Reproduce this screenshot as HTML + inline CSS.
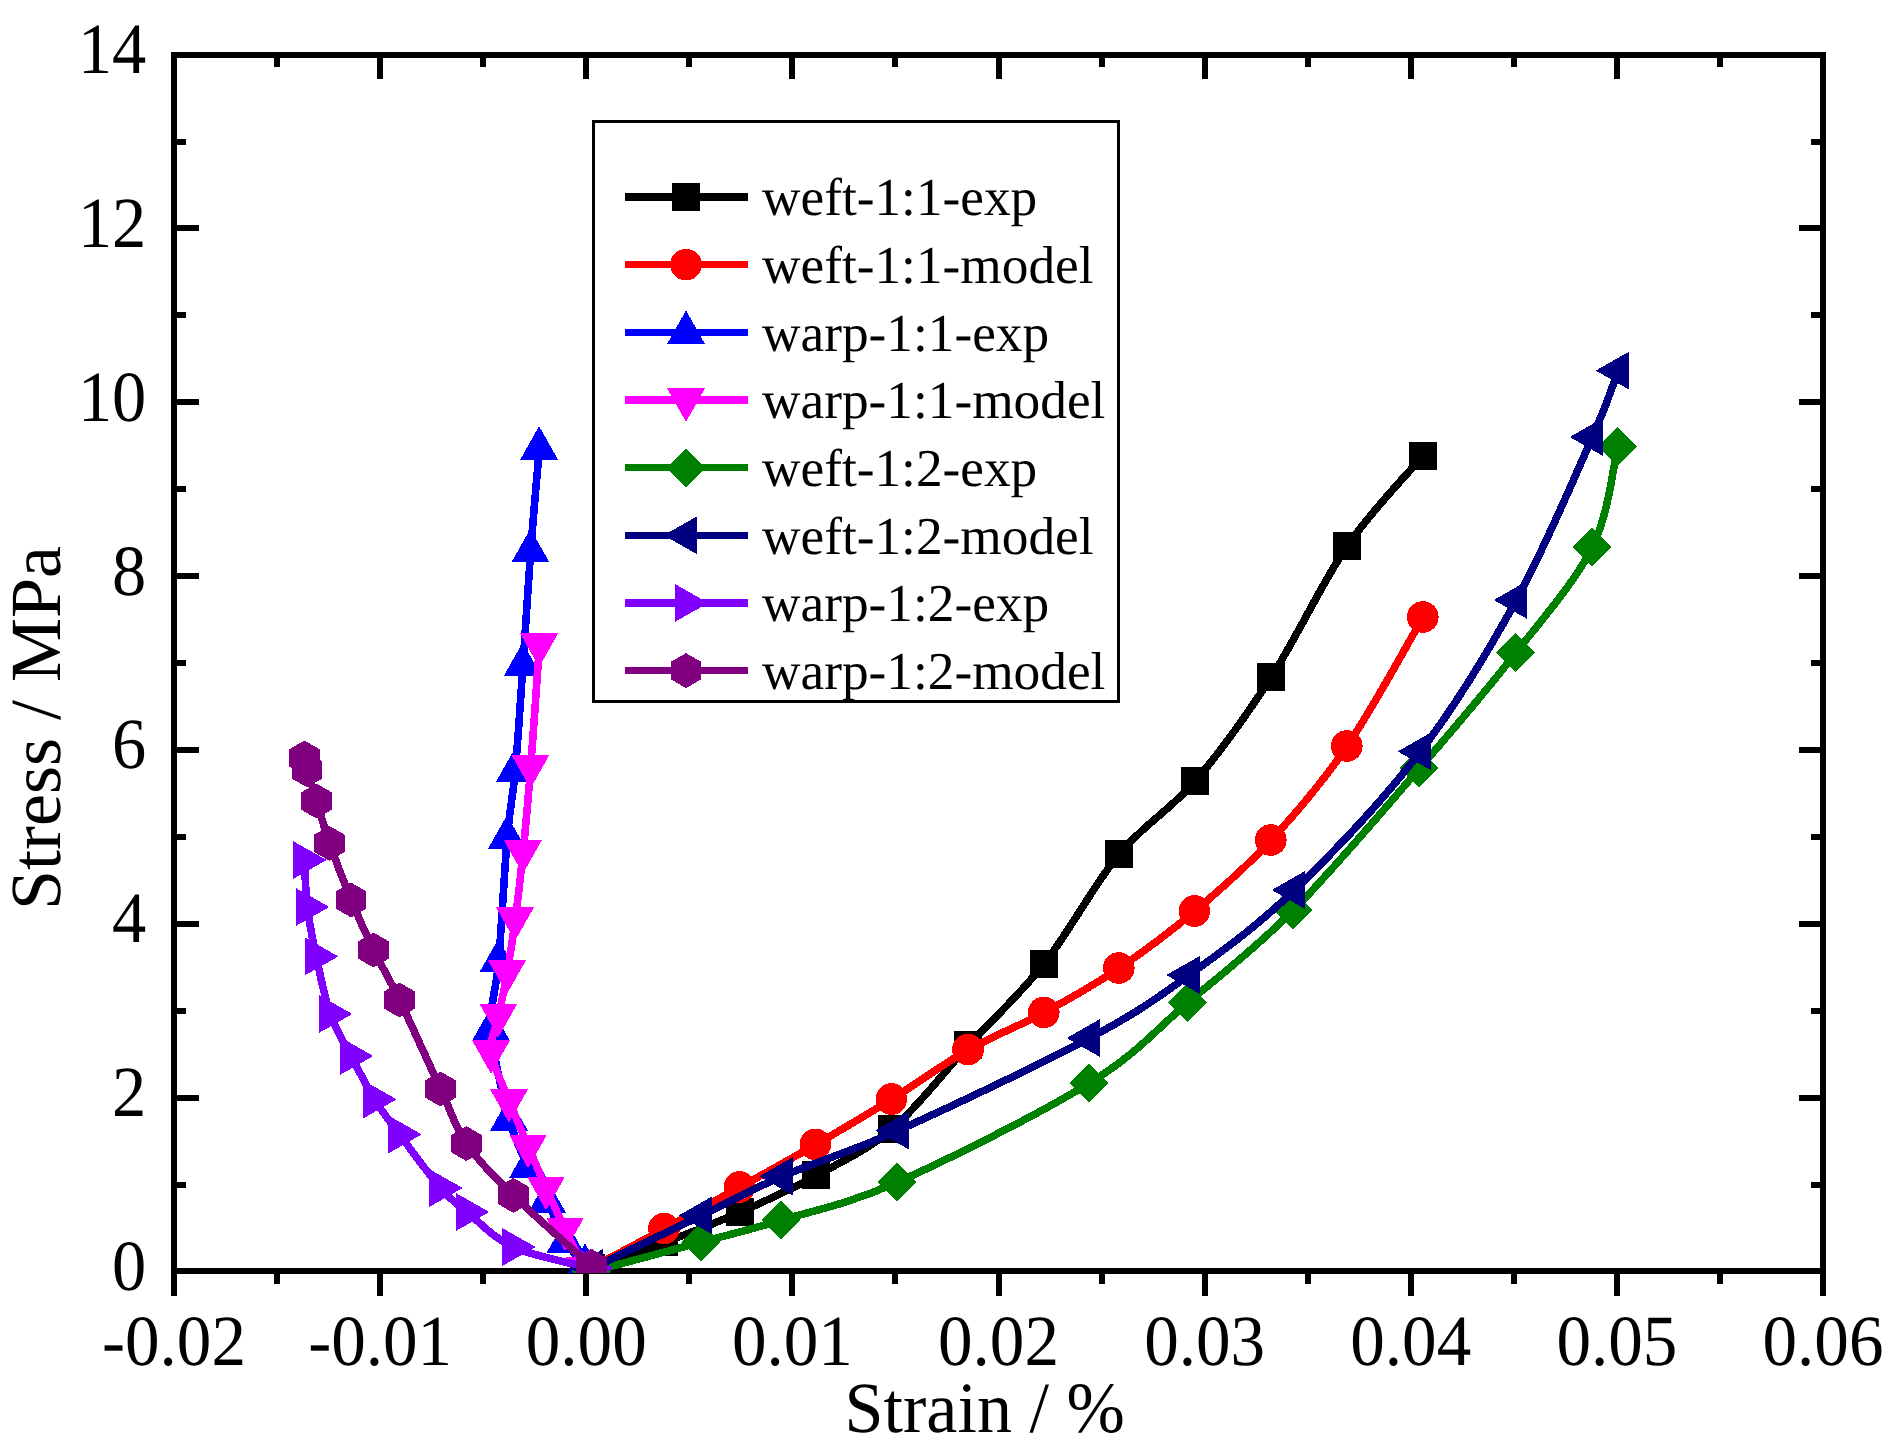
<!DOCTYPE html>
<html lang="en"><head><meta charset="utf-8"><title>Stress-strain</title>
<style>html,body{margin:0;padding:0;background:#fff}svg{display:block}</style></head>
<body>
<svg width="1899" height="1449" viewBox="0 0 1899 1449" font-family="'Liberation Serif', serif" shape-rendering="crispEdges" text-rendering="geometricPrecision">
<rect width="1899" height="1449" fill="#fff"/>
<defs><clipPath id="cp"><rect x="174" y="52" width="1649" height="1221"/></clipPath></defs>
<g stroke="#000" stroke-width="6" fill="none"><path d="M174,1296V52" /><path d="M1823,1296V52" /><path d="M171,55H1826" /><path d="M171,1271H1826" /><path d="M277.06,1274v10"/><path d="M277.06,58v9"/><path d="M380.12,1274v22"/><path d="M380.12,58v21"/><path d="M483.19,1274v10"/><path d="M483.19,58v9"/><path d="M586.25,1274v22"/><path d="M586.25,58v21"/><path d="M689.31,1274v10"/><path d="M689.31,58v9"/><path d="M792.38,1274v22"/><path d="M792.38,58v21"/><path d="M895.44,1274v10"/><path d="M895.44,58v9"/><path d="M998.5,1274v22"/><path d="M998.5,58v21"/><path d="M1101.56,1274v10"/><path d="M1101.56,58v9"/><path d="M1204.62,1274v22"/><path d="M1204.62,58v21"/><path d="M1307.69,1274v10"/><path d="M1307.69,58v9"/><path d="M1410.75,1274v22"/><path d="M1410.75,58v21"/><path d="M1513.81,1274v10"/><path d="M1513.81,58v9"/><path d="M1616.88,1274v22"/><path d="M1616.88,58v21"/><path d="M1719.94,1274v10"/><path d="M1719.94,58v9"/><path d="M177,1184.56h9"/><path d="M1820,1184.56h-9"/><path d="M177,1097.64h22"/><path d="M1820,1097.64h-21"/><path d="M177,1010.72h9"/><path d="M1820,1010.72h-9"/><path d="M177,923.8h22"/><path d="M1820,923.8h-21"/><path d="M177,836.88h9"/><path d="M1820,836.88h-9"/><path d="M177,749.96h22"/><path d="M1820,749.96h-21"/><path d="M177,663.04h9"/><path d="M1820,663.04h-9"/><path d="M177,576.12h22"/><path d="M1820,576.12h-21"/><path d="M177,489.2h9"/><path d="M1820,489.2h-9"/><path d="M177,402.28h22"/><path d="M1820,402.28h-21"/><path d="M177,315.36h9"/><path d="M1820,315.36h-9"/><path d="M177,228.44h22"/><path d="M1820,228.44h-21"/><path d="M177,141.52h9"/><path d="M1820,141.52h-9"/></g>
<g font-size="72" fill="#000">
<text transform="translate(174,1364.8) scale(0.96,1)" text-anchor="middle">-0.02</text>
<text transform="translate(380.12,1364.8) scale(0.96,1)" text-anchor="middle">-0.01</text>
<text transform="translate(586.25,1364.8) scale(0.96,1)" text-anchor="middle">0.00</text>
<text transform="translate(792.38,1364.8) scale(0.96,1)" text-anchor="middle">0.01</text>
<text transform="translate(998.5,1364.8) scale(0.96,1)" text-anchor="middle">0.02</text>
<text transform="translate(1204.62,1364.8) scale(0.96,1)" text-anchor="middle">0.03</text>
<text transform="translate(1410.75,1364.8) scale(0.96,1)" text-anchor="middle">0.04</text>
<text transform="translate(1616.88,1364.8) scale(0.96,1)" text-anchor="middle">0.05</text>
<text transform="translate(1823,1364.8) scale(0.96,1)" text-anchor="middle">0.06</text>
<text transform="translate(146.3,1289.88) scale(0.95,1)" text-anchor="end">0</text>
<text transform="translate(146.3,1116.04) scale(0.95,1)" text-anchor="end">2</text>
<text transform="translate(146.3,942.2) scale(0.95,1)" text-anchor="end">4</text>
<text transform="translate(146.3,768.36) scale(0.95,1)" text-anchor="end">6</text>
<text transform="translate(146.3,594.52) scale(0.95,1)" text-anchor="end">8</text>
<text transform="translate(146.3,420.68) scale(0.95,1)" text-anchor="end">10</text>
<text transform="translate(146.3,246.84) scale(0.95,1)" text-anchor="end">12</text>
<text transform="translate(146.3,73) scale(0.95,1)" text-anchor="end">14</text>
<text transform="translate(844.6,1432.3) scale(0.973,1)">Strain / %</text>
<text transform="translate(59.8,910) rotate(-90)">Stress / MPa</text>
</g>
<g clip-path="url(#cp)" shape-rendering="crispEdges">
<path d="M590.5,1268C602.75,1263.73 639.12,1251.73 664,1242.4C688.88,1233.07 714.5,1223.17 739.8,1212C765.1,1200.83 790.43,1189.3 815.8,1175.4C841.17,1161.5 866.63,1150.27 892,1128.6C917.37,1106.93 942.7,1072.9 968,1045.4C993.3,1017.9 1018.67,995.5 1043.8,963.6C1068.93,931.7 1093.63,884.43 1118.8,854C1143.97,823.57 1169.43,810.53 1194.8,781C1220.17,751.47 1245.67,715.97 1271,676.8C1296.33,637.63 1321.5,582.87 1346.8,546C1372.1,509.13 1410.13,470.67 1422.8,455.6" fill="none" stroke="#000000" stroke-width="7.6" stroke-linejoin="round" transform="translate(0.3,0.2)"/>
<rect x="576.5" y="1254" width="28" height="28" fill="#000000"/>
<rect x="650" y="1228.4" width="28" height="28" fill="#000000"/>
<rect x="725.8" y="1198" width="28" height="28" fill="#000000"/>
<rect x="801.8" y="1161.4" width="28" height="28" fill="#000000"/>
<rect x="878" y="1114.6" width="28" height="28" fill="#000000"/>
<rect x="954" y="1031.4" width="28" height="28" fill="#000000"/>
<rect x="1029.8" y="949.6" width="28" height="28" fill="#000000"/>
<rect x="1104.8" y="840" width="28" height="28" fill="#000000"/>
<rect x="1180.8" y="767" width="28" height="28" fill="#000000"/>
<rect x="1257" y="662.8" width="28" height="28" fill="#000000"/>
<rect x="1332.8" y="532" width="28" height="28" fill="#000000"/>
<rect x="1408.8" y="441.6" width="28" height="28" fill="#000000"/>
<path d="M590.5,1268C602.75,1261.43 639.18,1242.1 664,1228.6C688.82,1215.1 714.17,1201.03 739.4,1187C764.63,1172.97 790.07,1159.07 815.4,1144.4C840.73,1129.73 865.97,1114.8 891.4,1099C916.83,1083.2 942.6,1064.03 968,1049.6C993.4,1035.17 1018.67,1026 1043.8,1012.4C1068.93,998.8 1093.7,984.9 1118.8,968C1143.9,951.1 1169.07,932.33 1194.4,911C1219.73,889.67 1245.4,867.5 1270.8,840C1296.2,812.5 1321.47,783.17 1346.8,746C1372.13,708.83 1410.13,638.5 1422.8,617" fill="none" stroke="#ff0000" stroke-width="7.6" stroke-linejoin="round" transform="translate(0.3,0.2)"/>
<circle cx="590.5" cy="1268" r="15.8" fill="#ff0000"/>
<circle cx="664" cy="1228.6" r="15.8" fill="#ff0000"/>
<circle cx="739.4" cy="1187" r="15.8" fill="#ff0000"/>
<circle cx="815.4" cy="1144.4" r="15.8" fill="#ff0000"/>
<circle cx="891.4" cy="1099" r="15.8" fill="#ff0000"/>
<circle cx="968" cy="1049.6" r="15.8" fill="#ff0000"/>
<circle cx="1043.8" cy="1012.4" r="15.8" fill="#ff0000"/>
<circle cx="1118.8" cy="968" r="15.8" fill="#ff0000"/>
<circle cx="1194.4" cy="911" r="15.8" fill="#ff0000"/>
<circle cx="1270.8" cy="840" r="15.8" fill="#ff0000"/>
<circle cx="1346.8" cy="746" r="15.8" fill="#ff0000"/>
<circle cx="1422.8" cy="617" r="15.8" fill="#ff0000"/>
<path d="M539.1,448C537.65,465.1 533.13,514.55 530.4,550.6C527.67,586.65 525.27,627.73 522.7,664.3C520.13,700.87 517.62,741.22 515,770C512.38,798.78 509.77,805.23 507,837C504.23,868.77 501.07,928.6 498.4,960.6C495.73,992.6 489.23,1002.6 491,1029C492.77,1055.4 502.83,1096.1 509,1119C515.17,1141.9 521.67,1152.73 528,1166.4C534.33,1180.07 540.77,1188.5 547,1201C553.23,1213.5 559.07,1230.73 565.4,1241.4C571.73,1252.07 581.73,1261.07 585,1265" fill="none" stroke="#0000ff" stroke-width="7.6" stroke-linejoin="round" transform="translate(0.3,0.2)"/>
<polygon points="539.1,426.1 520.1,459.8 558.1,459.8" fill="#0000ff"/>
<polygon points="530.4,528.7 511.4,562.4 549.4,562.4" fill="#0000ff"/>
<polygon points="522.7,642.4 503.7,676.1 541.7,676.1" fill="#0000ff"/>
<polygon points="515,748.1 496,781.8 534,781.8" fill="#0000ff"/>
<polygon points="507,815.1 488,848.8 526,848.8" fill="#0000ff"/>
<polygon points="498.4,938.7 479.4,972.4 517.4,972.4" fill="#0000ff"/>
<polygon points="491,1007.1 472,1040.8 510,1040.8" fill="#0000ff"/>
<polygon points="509,1097.1 490,1130.8 528,1130.8" fill="#0000ff"/>
<polygon points="528,1144.5 509,1178.2 547,1178.2" fill="#0000ff"/>
<polygon points="547,1179.1 528,1212.8 566,1212.8" fill="#0000ff"/>
<polygon points="565.4,1219.5 546.4,1253.2 584.4,1253.2" fill="#0000ff"/>
<polygon points="585,1243.1 566,1276.8 604,1276.8" fill="#0000ff"/>
<path d="M539.1,645.2C537.65,665.45 533.12,732.23 530.4,766.7C527.68,801.17 525.37,826.62 522.8,852C520.23,877.38 517.63,899 515,919C512.37,939 509.77,955.93 507,972C504.23,988.07 501.07,1002.07 498.4,1015.4C495.73,1028.73 489.23,1037.73 491,1052C492.77,1066.27 502.83,1085.27 509,1101C515.17,1116.73 521.83,1131.83 528,1146.4C534.17,1160.97 539.83,1174.57 546,1188.4C552.17,1202.23 558.58,1215.97 565,1229.4C571.42,1242.83 581.25,1262.4 584.5,1269" fill="none" stroke="#ff00ff" stroke-width="7.6" stroke-linejoin="round" transform="translate(0.3,0.2)"/>
<polygon points="539.1,667.1 520.1,633.4 558.1,633.4" fill="#ff00ff"/>
<polygon points="530.4,788.6 511.4,754.9 549.4,754.9" fill="#ff00ff"/>
<polygon points="522.8,873.9 503.8,840.2 541.8,840.2" fill="#ff00ff"/>
<polygon points="515,940.9 496,907.2 534,907.2" fill="#ff00ff"/>
<polygon points="507,993.9 488,960.2 526,960.2" fill="#ff00ff"/>
<polygon points="498.4,1037.3 479.4,1003.6 517.4,1003.6" fill="#ff00ff"/>
<polygon points="491,1073.9 472,1040.2 510,1040.2" fill="#ff00ff"/>
<polygon points="509,1122.9 490,1089.2 528,1089.2" fill="#ff00ff"/>
<polygon points="528,1168.3 509,1134.6 547,1134.6" fill="#ff00ff"/>
<polygon points="546,1210.3 527,1176.6 565,1176.6" fill="#ff00ff"/>
<polygon points="565,1251.3 546,1217.6 584,1217.6" fill="#ff00ff"/>
<polygon points="584.5,1290.9 565.5,1257.2 603.5,1257.2" fill="#ff00ff"/>
<path d="M591,1271.5C609.27,1266.58 668.93,1250.58 700.6,1242C732.27,1233.42 748.27,1230 781,1220C813.73,1210 845.67,1204.83 897,1182C948.33,1159.17 1040.57,1112.93 1089,1083C1137.43,1053.07 1153.6,1031.23 1187.6,1002.4C1221.6,973.57 1254.37,949.07 1293,910C1331.63,870.93 1382.3,810.9 1419.4,768C1456.5,725.1 1486.83,689.43 1515.6,652.6C1544.37,615.77 1575.03,581.33 1592,547C1608.97,512.67 1613.17,463.33 1617.4,446.6" fill="none" stroke="#008000" stroke-width="7.6" stroke-linejoin="round" transform="translate(0.3,0.2)"/>
<polygon points="591,1252 610.5,1271.5 591,1291 571.5,1271.5" fill="#008000"/>
<polygon points="700.6,1222.5 720.1,1242 700.6,1261.5 681.1,1242" fill="#008000"/>
<polygon points="781,1200.5 800.5,1220 781,1239.5 761.5,1220" fill="#008000"/>
<polygon points="897,1162.5 916.5,1182 897,1201.5 877.5,1182" fill="#008000"/>
<polygon points="1089,1063.5 1108.5,1083 1089,1102.5 1069.5,1083" fill="#008000"/>
<polygon points="1187.6,982.9 1207.1,1002.4 1187.6,1021.9 1168.1,1002.4" fill="#008000"/>
<polygon points="1293,890.5 1312.5,910 1293,929.5 1273.5,910" fill="#008000"/>
<polygon points="1419.4,748.5 1438.9,768 1419.4,787.5 1399.9,768" fill="#008000"/>
<polygon points="1515.6,633.1 1535.1,652.6 1515.6,672.1 1496.1,652.6" fill="#008000"/>
<polygon points="1592,527.5 1611.5,547 1592,566.5 1572.5,547" fill="#008000"/>
<polygon points="1617.4,427.1 1636.9,446.6 1617.4,466.1 1597.9,446.6" fill="#008000"/>
<path d="M591.8,1268C610,1259.23 669.37,1230.7 701,1215.4C732.63,1200.1 748.83,1190.37 781.6,1176.2C814.37,1162.03 846.37,1153.43 897.6,1130.4C948.83,1107.37 1040.5,1063.9 1089,1038C1137.5,1012.1 1154.43,999.67 1188.6,975C1222.77,950.33 1255.43,927.27 1294,890C1332.57,852.73 1383,799.73 1420,751.4C1457,703.07 1487.33,652.4 1516,600C1544.67,547.6 1575,475.23 1592,437C1609,398.77 1613.67,381.67 1618,370.6" fill="none" stroke="#000080" stroke-width="7.6" stroke-linejoin="round" transform="translate(0.3,0.2)"/>
<polygon points="569.53,1268 602.93,1249 602.93,1287" fill="#000080"/>
<polygon points="678.73,1215.4 712.13,1196.4 712.13,1234.4" fill="#000080"/>
<polygon points="759.33,1176.2 792.73,1157.2 792.73,1195.2" fill="#000080"/>
<polygon points="875.33,1130.4 908.73,1111.4 908.73,1149.4" fill="#000080"/>
<polygon points="1066.73,1038 1100.13,1019 1100.13,1057" fill="#000080"/>
<polygon points="1166.33,975 1199.73,956 1199.73,994" fill="#000080"/>
<polygon points="1271.73,890 1305.13,871 1305.13,909" fill="#000080"/>
<polygon points="1397.73,751.4 1431.13,732.4 1431.13,770.4" fill="#000080"/>
<polygon points="1493.73,600 1527.13,581 1527.13,619" fill="#000080"/>
<polygon points="1569.73,437 1603.13,418 1603.13,456" fill="#000080"/>
<polygon points="1595.73,370.6 1629.13,351.6 1629.13,389.6" fill="#000080"/>
<path d="M304.2,860C304.67,867.83 305.03,890.93 307,907C308.97,923.07 312.17,938.57 316,956.4C319.83,974.23 324.17,997.4 330,1014C335.83,1030.6 343.6,1041.77 351,1056C358.4,1070.23 366.33,1086.33 374.4,1099.4C382.47,1112.47 388.4,1119.63 399.4,1134.4C410.4,1149.17 429.13,1175.07 440.4,1188C451.67,1200.93 454.83,1202.17 467,1212C479.17,1221.83 492.73,1237.67 513.4,1247C534.07,1256.33 578.07,1264.5 591,1268" fill="none" stroke="#8000ff" stroke-width="7.6" stroke-linejoin="round" transform="translate(0.3,0.2)"/>
<polygon points="326.47,860 293.07,841 293.07,879" fill="#8000ff"/>
<polygon points="329.27,907 295.87,888 295.87,926" fill="#8000ff"/>
<polygon points="338.27,956.4 304.87,937.4 304.87,975.4" fill="#8000ff"/>
<polygon points="352.27,1014 318.87,995 318.87,1033" fill="#8000ff"/>
<polygon points="373.27,1056 339.87,1037 339.87,1075" fill="#8000ff"/>
<polygon points="396.67,1099.4 363.27,1080.4 363.27,1118.4" fill="#8000ff"/>
<polygon points="421.67,1134.4 388.27,1115.4 388.27,1153.4" fill="#8000ff"/>
<polygon points="462.67,1188 429.27,1169 429.27,1207" fill="#8000ff"/>
<polygon points="489.27,1212 455.87,1193 455.87,1231" fill="#8000ff"/>
<polygon points="535.67,1247 502.27,1228 502.27,1266" fill="#8000ff"/>
<polygon points="613.27,1268 579.87,1249 579.87,1287" fill="#8000ff"/>
<path d="M304.4,758C304.83,759.97 305,762.63 307,769.8C309,776.97 312.67,788.73 316.4,801C320.13,813.27 323.63,826.9 329.4,843.4C335.17,859.9 343.67,882.23 351,900C358.33,917.77 365.33,933.33 373.4,950C381.47,966.67 388.23,976.83 399.4,1000C410.57,1023.17 429.23,1065.07 440.4,1089C451.57,1112.93 454.23,1125.87 466.4,1143.6C478.57,1161.33 492.57,1174.95 513.4,1195.4C534.23,1215.85 578.4,1254.48 591.4,1266.3" fill="none" stroke="#800080" stroke-width="7.6" stroke-linejoin="round" transform="translate(0.3,0.2)"/>
<polygon points="304.4,740.5 319.56,749.25 319.56,766.75 304.4,775.5 289.24,766.75 289.24,749.25" fill="#800080"/>
<polygon points="307,752.3 322.16,761.05 322.16,778.55 307,787.3 291.84,778.55 291.84,761.05" fill="#800080"/>
<polygon points="316.4,783.5 331.56,792.25 331.56,809.75 316.4,818.5 301.24,809.75 301.24,792.25" fill="#800080"/>
<polygon points="329.4,825.9 344.56,834.65 344.56,852.15 329.4,860.9 314.24,852.15 314.24,834.65" fill="#800080"/>
<polygon points="351,882.5 366.16,891.25 366.16,908.75 351,917.5 335.84,908.75 335.84,891.25" fill="#800080"/>
<polygon points="373.4,932.5 388.56,941.25 388.56,958.75 373.4,967.5 358.24,958.75 358.24,941.25" fill="#800080"/>
<polygon points="399.4,982.5 414.56,991.25 414.56,1008.75 399.4,1017.5 384.24,1008.75 384.24,991.25" fill="#800080"/>
<polygon points="440.4,1071.5 455.56,1080.25 455.56,1097.75 440.4,1106.5 425.24,1097.75 425.24,1080.25" fill="#800080"/>
<polygon points="466.4,1126.1 481.56,1134.85 481.56,1152.35 466.4,1161.1 451.24,1152.35 451.24,1134.85" fill="#800080"/>
<polygon points="513.4,1177.9 528.56,1186.65 528.56,1204.15 513.4,1212.9 498.24,1204.15 498.24,1186.65" fill="#800080"/>
<polygon points="591.4,1248.8 606.56,1257.55 606.56,1275.05 591.4,1283.8 576.24,1275.05 576.24,1257.55" fill="#800080"/>
</g>
<rect x="593.5" y="121" width="525.0" height="580.5" fill="#fff" stroke="#000" stroke-width="3"/>
<g>
<path d="M625,197H748" stroke="#000000" stroke-width="7.5"/>
<rect x="672" y="183" width="28" height="28" fill="#000000"/>
<text x="762" y="215.4" font-size="53.3" fill="#000">weft-1:1-exp</text>
<path d="M625,264.66H748" stroke="#ff0000" stroke-width="7.5"/>
<circle cx="686" cy="264.66" r="15.8" fill="#ff0000"/>
<text x="762" y="283.06" font-size="53.3" fill="#000">weft-1:1-model</text>
<path d="M625,332.32H748" stroke="#0000ff" stroke-width="7.5"/>
<polygon points="686,310.42 667,344.12 705,344.12" fill="#0000ff"/>
<text x="762" y="350.72" font-size="53.3" fill="#000">warp-1:1-exp</text>
<path d="M625,399.98H748" stroke="#ff00ff" stroke-width="7.5"/>
<polygon points="686,421.88 667,388.18 705,388.18" fill="#ff00ff"/>
<text x="762" y="418.38" font-size="53.3" fill="#000">warp-1:1-model</text>
<path d="M625,467.64H748" stroke="#008000" stroke-width="7.5"/>
<polygon points="686,448.14 705.5,467.64 686,487.14 666.5,467.64" fill="#008000"/>
<text x="762" y="486.04" font-size="53.3" fill="#000">weft-1:2-exp</text>
<path d="M625,535.3H748" stroke="#000080" stroke-width="7.5"/>
<polygon points="663.73,535.3 697.13,516.3 697.13,554.3" fill="#000080"/>
<text x="762" y="553.7" font-size="53.3" fill="#000">weft-1:2-model</text>
<path d="M625,602.96H748" stroke="#8000ff" stroke-width="7.5"/>
<polygon points="708.27,602.96 674.87,583.96 674.87,621.96" fill="#8000ff"/>
<text x="762" y="621.36" font-size="53.3" fill="#000">warp-1:2-exp</text>
<path d="M625,670.62H748" stroke="#800080" stroke-width="7.5"/>
<polygon points="686,653.12 701.16,661.87 701.16,679.37 686,688.12 670.84,679.37 670.84,661.87" fill="#800080"/>
<text x="762" y="689.02" font-size="53.3" fill="#000">warp-1:2-model</text>
</g>
</svg>
</body></html>
